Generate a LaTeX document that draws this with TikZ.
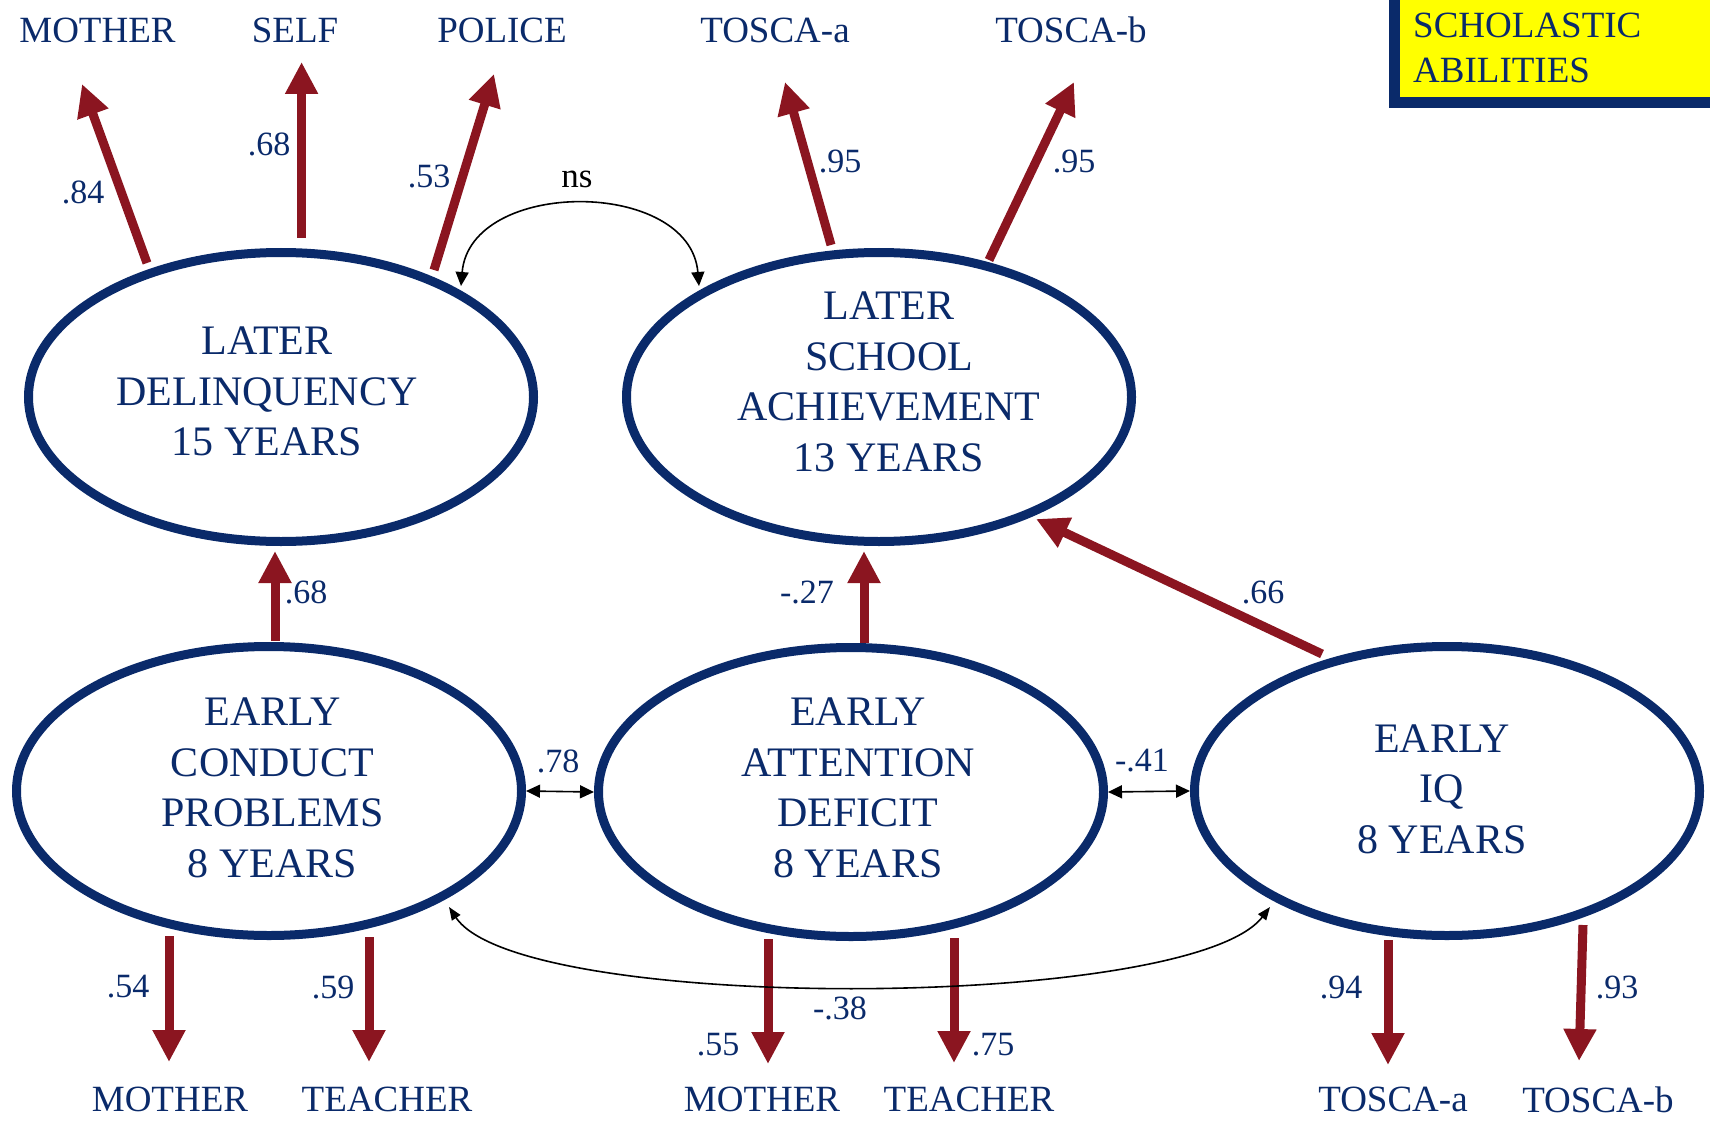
\documentclass[tikz,border=0pt]{standalone}
\usepackage{fontspec}
\setmainfont{Liberation Serif}
\usetikzlibrary{arrows.meta,shapes.geometric,calc}
\definecolor{navy}{HTML}{0A2A6A}
\definecolor{arrowred}{HTML}{8B1520}
\definecolor{boxyellow}{HTML}{FFFF00}
\pgfdeclarelayer{back}
\pgfsetlayers{back,main}

\begin{document}
\begin{tikzpicture}[x=1pt,y=-1pt,
  latent/.style={ellipse, draw=navy, line width=9pt, minimum width=505pt, minimum height=289pt, inner sep=0pt},
  lattext/.style={text=navy, align=center, inner sep=0pt, font=\fontsize{42}{50.5}\selectfont},
  indicator/.style={text=navy, inner sep=0pt, font=\fontsize{37}{44}\selectfont},
  coef/.style={text=navy, inner sep=0pt, font=\fontsize{34}{40}\selectfont},
  loading/.style={draw=arrowred, line width=9pt, -{Triangle[length=32pt,width=31pt]}},
  covar/.style={draw=black, line width=1.6pt, {Triangle[length=14pt,width=13pt]}-{Triangle[length=14pt,width=13pt]}},
  covarlong/.style={draw=black, line width=1.6pt, {Triangle[length=13pt,width=10pt]}-{Triangle[length=13pt,width=10pt]}},
]
\useasboundingbox (0,0) rectangle (1710,1123);

% scholastic abilities tag
\draw[draw=navy, line width=11pt, fill=boxyellow] (1394.5,-30) rectangle (1740,102.5);
\node[indicator, anchor=north west, align=left, font=\fontsize{37}{45}\selectfont] (sch) at (1413,13) {SCHOLASTIC\\ABILITIES};

% latent constructs
\node[latent] (LD)  at (281,397) {};
\node[latent] (LSA) at (879,397) {};
\node[latent] (EC)  at (269,791) {};
\node[latent] (EA)  at (851,792) {};
\node[latent] (IQ)  at (1447,791) {};
\node[lattext] (LDt)  at (267,391.5) {LATER\\DELINQUENCY\\15 YEARS};
\node[lattext] (LSAt) at (889,382) {LATER\\SCHOOL\\ACHIEVEMENT\\13 YEARS};
\node[lattext] (ECt)  at (272.5,788) {EARLY\\CONDUCT\\PROBLEMS\\8 YEARS};
\node[lattext] (EAt)  at (858,788) {EARLY\\ATTENTION\\DEFICIT\\8 YEARS};
\node[lattext] (IQt)  at (1442,789) {EARLY\\IQ\\8 YEARS};

% indicator labels
\node[indicator] (iMo)  at (97.5,30) {MOTHER};
\node[indicator] (iSe)  at (295,30) {SELF};
\node[indicator] (iPo)  at (502,30) {POLICE};
\node[indicator] (iTa)  at (775,30) {TOSCA-a};
\node[indicator] (iTb)  at (1071,30) {TOSCA-b};
\node[indicator] (bMo1) at (170,1099.5) {MOTHER};
\node[indicator] (bTe1) at (387,1099.5) {TEACHER};
\node[indicator] (bMo2) at (762,1099.5) {MOTHER};
\node[indicator] (bTe2) at (969,1099.5) {TEACHER};
\node[indicator] (bTa)  at (1393,1099.5) {TOSCA-a};
\node[indicator] (bTb)  at (1598,1099.5) {TOSCA-b};

% arrow tips of the loadings
\coordinate (tipMo) at (82,84);
\coordinate (tipSe) at (301.6,62);
\coordinate (tipPo) at (494,74);
\coordinate (tipTa) at (785,82);
\coordinate (tipTb) at (1074,82);
\coordinate (tipEC1) at (169,1062);
\coordinate (tipEC2) at (369,1062);
\coordinate (tipEA1) at (768,1064);
\coordinate (tipEA2) at (954,1063);
\coordinate (tipIQ1) at (1388,1065);
\coordinate (tipIQ2) at (1579,1061);

\begin{pgfonlayer}{back}
% measurement loadings
\draw[loading] ($(LD)+(-134,-134)$) -- (tipMo);
\draw[loading] ($(LD)+(20.6,-159)$) -- (tipSe);
\draw[loading] ($(LD)+(153,-127)$) -- (tipPo);
\draw[loading] ($(LSA)+(-48,-152)$) -- (tipTa);
\draw[loading] ($(LSA)+(110,-137)$) -- (tipTb);
\draw[loading] ($(EC)+(-100,145)$) -- (tipEC1);
\draw[loading] ($(EC)+(100,146)$) -- (tipEC2);
\draw[loading] ($(EA)+(-83,147)$) -- (tipEA1);
\draw[loading] ($(EA)+(103,146)$) -- (tipEA2);
\draw[loading] ($(IQ)+(-59,149)$) -- (tipIQ1);
\draw[loading] ($(IQ)+(136,134)$) -- (tipIQ2);
% structural paths
\draw[loading] ($(EC)+(6,-150)$) -- ($(LD)+(-6,154)$);
\draw[loading] ($(EA)+(13,-149)$) -- ($(LSA)+(-15,154)$);
\draw[loading] ($(IQ)+(-125,-137)$) -- ($(LSA)+(157,122)$);
\end{pgfonlayer}

% correlations
\draw[covar] ($(LD)+(180,-111)$) .. controls (470,178) and (690,178) .. ($(LSA)+(-180,-111)$);
\draw[covar] (EC.east) -- (EA.west);
\draw[covar] (EA.east) -- (IQ.west);
\draw[covarlong] ($(EC)+(180,116)$) .. controls (520,1014) and (1190,1011) .. ($(IQ)+(-177,116)$);

% coefficients
\node[coef] (c84)  at (83,192) {.84};
\node[coef] (c68a) at (269,144) {.68};
\node[coef] (c53)  at (429,176) {.53};
\node[coef, text=black, font=\fontsize{35}{40}\selectfont] (cns) at (577,179) {ns};
\node[coef] (c95a) at (840,161) {.95};
\node[coef] (c95b) at (1074,161) {.95};
\node[coef] (c68b) at (306,592) {.68};
\node[coef] (c27)  at (807,592) {-.27};
\node[coef] (c66)  at (1263,592) {.66};
\node[coef] (c78)  at (558,761) {.78};
\node[coef] (c41)  at (1142,761) {-.41};
\node[coef] (c38)  at (840,1008) {-.38};
\node[coef] (c54)  at (128,987) {.54};
\node[coef] (c59)  at (333,987) {.59};
\node[coef] (c55)  at (718,1045) {.55};
\node[coef] (c75)  at (993,1045) {.75};
\node[coef] (c94)  at (1341,987) {.94};
\node[coef] (c93)  at (1617,987) {.93};
\end{tikzpicture}
\end{document}
